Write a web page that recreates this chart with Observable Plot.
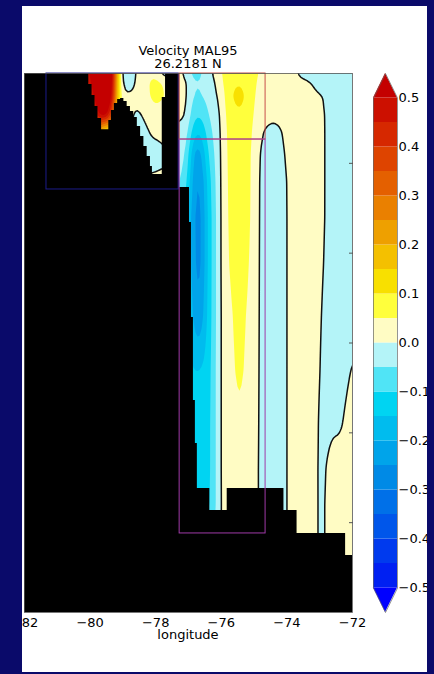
<!DOCTYPE html>
<html><head><meta charset="utf-8">
<script src="https://cdn.jsdelivr.net/npm/d3@7"></script>
<script src="https://cdn.jsdelivr.net/npm/@observablehq/plot@0.6"></script>
<style>
body{margin:0;background:#0a0a6a;}
#page{position:relative;width:434px;height:674px;background:#0a0a6a;overflow:hidden;font-family:"DejaVu Sans",sans-serif;}
#panel{position:absolute;left:22px;top:6px;width:405px;height:666px;background:#fff;overflow:hidden;}
.layer{position:absolute;left:-22px;top:-6px;width:434px;height:674px;}
.txt{position:absolute;font-size:13px;line-height:13px;height:13px;color:#000;text-align:center;white-space:nowrap;font-family:"DejaVu Sans",sans-serif;}
</style></head>
<body>
<div id="page"><div id="panel">
<div id="main" class="layer"></div>
<div id="cbar" class="layer"></div>
<div class="txt" style="left:66px;top:38px;width:200px;">Velocity MAL95</div>
<div class="txt" style="left:66px;top:51.3px;width:200px;">26.2181 N</div>
<div class="txt" style="left:66px;top:622px;width:200px;">longitude</div>
</div></div>
<script>
// ---- data ----
const depth = [0, 100, 250, 450, 650, 900, 1200, 1600, 2100, 2700, 3300, 3900, 4400, 4800, 5200, 6000];
const lon = [-82, -80.1, -79.95, -79.8, -79.65, -79.5, -79.35, -79.2, -79.05, -78.9, -78.75, -78.6, -78.45, -78.3, -78.15, -78.0, -77.85, -77.6, -77.35,
  -77.2, -77.05, -76.9, -76.75, -76.6, -76.45, -76.3, -76.15, -76.0, -75.85, -75.65, -75.45, -75.25, -75.05, -74.85, -74.65, -74.45, -74.25, -74.05,
  -73.85, -73.6, -73.35, -73.1, -72.95, -72.8, -72.6, -72.4, -72.2, -72.0];
// velocity (m/s), one list per longitude, values at each depth
const velocity = [
  [0.45,0.4,0.35,0.3,0.2,0.1,0.05,0.05,0.05,0.05,0.05,0.05,0.05,0.05,0.05,0.05],
  [0.45,0.4,0.35,0.3,0.2,0.1,0.05,0.05,0.05,0.05,0.05,0.05,0.05,0.05,0.05,0.05],
  [0.55,0.52,0.42,0.35,0.25,0.1,0.05,0.05,0.05,0.05,0.05,0.05,0.05,0.05,0.05,0.05],
  [0.62,0.63,0.6,0.45,0.3,0.15,0.05,0.05,0.05,0.05,0.05,0.05,0.05,0.05,0.05,0.05],
  [0.66,0.68,0.66,0.56,0.12,0.08,0.05,0.05,0.05,0.05,0.05,0.05,0.05,0.05,0.05,0.05],
  [0.64,0.66,0.64,0.54,0.1,0.05,0.05,0.05,0.05,0.05,0.05,0.05,0.05,0.05,0.05,0.05],
  [0.6,0.58,0.55,0.4,0.1,0.05,0.05,0.05,0.05,0.05,0.05,0.05,0.05,0.05,0.05,0.05],
  [0.25,0.22,0.2,0.15,0.08,0.05,0.05,0.05,0.05,0.05,0.05,0.05,0.05,0.05,0.05,0.05],
  [-0.02,0,0.02,0.02,0.02,0.02,0.02,0.02,0.02,0.02,0.02,0.02,0.02,0.02,0.02,0.02],
  [-0.04,-0.03,0.01,0.015,0.015,0.015,0.015,0.015,0.015,0.015,0.015,0.015,0.015,0.015,0.015,0.015],
  [-0.04,-0.025,0.01,0.01,0,0,0,0,0,0,0,0,0,0,0,0],
  [0.01,0.01,0.015,-0.01,-0.02,-0.015,0,0,0,0,0,0,0,0,0,0],
  [0.02,0.025,0.02,0,-0.02,-0.02,0,0,0,0,0,0,0,0,0,0],
  [0.03,0.04,0.035,0.01,-0.01,-0.015,0,0,0,0,0,0,0,0,0,0],
  [0.04,0.055,0.055,0.03,0.005,-0.02,0.01,0.01,0.01,0.01,0.01,0.01,0.01,0.01,0.01,0.01],
  [0.04,0.065,0.065,0.035,0.01,-0.02,0.01,0.01,0.01,0.01,0.01,0.01,0.01,0.01,0.01,0.01],
  [-0.005,0.055,0.06,0.03,0.01,-0.01,0.01,0.01,0.01,0.01,0.01,0.01,0.01,0.01,0.01,0.01],
  [-0.03,0.03,0.04,0.02,0.01,0,0,0,0,0,0,0,0,0,0,0],
  [0.01,0.01,0.01,0.005,-0.01,-0.03,-0.05,-0.05,-0.05,-0.05,-0.05,-0.05,-0.05,-0.05,-0.05,-0.05],
  [0.01,0.012,0.012,0.008,-0.01,-0.03,-0.05,-0.08,-0.1,-0.1,-0.1,-0.1,-0.1,-0.1,-0.1,-0.1],
  [-0.02,0.008,0.01,0.002,-0.03,-0.06,-0.09,-0.14,-0.15,-0.15,-0.12,-0.1,-0.1,-0.1,-0.1,-0.1],
  [-0.06,-0.04,-0.045,-0.07,-0.11,-0.16,-0.19,-0.21,-0.2,-0.18,-0.15,-0.12,-0.1,-0.1,-0.1,-0.1],
  [-0.07,-0.05,-0.06,-0.095,-0.15,-0.25,-0.27,-0.28,-0.28,-0.25,-0.15,-0.13,-0.12,-0.1,-0.1,-0.1],
  [-0.05,-0.045,-0.05,-0.09,-0.14,-0.2,-0.24,-0.26,-0.26,-0.23,-0.15,-0.13,-0.12,-0.11,-0.1,-0.1],
  [-0.03,-0.035,-0.04,-0.06,-0.09,-0.12,-0.15,-0.16,-0.16,-0.15,-0.13,-0.12,-0.12,-0.11,-0.1,-0.1],
  [-0.005,-0.015,-0.02,-0.035,-0.05,-0.07,-0.09,-0.1,-0.1,-0.1,-0.1,-0.1,-0.1,-0.1,-0.06,-0.06],
  [0.02,0.005,-0.005,-0.02,-0.03,-0.035,-0.04,-0.045,-0.045,-0.045,-0.04,-0.04,-0.04,-0.04,-0.03,-0.03],
  [0.048,0.04,0.02,0.01,0.008,0.006,0.006,0.006,0.006,0.006,0.006,0.006,0.006,0.006,0.006,0.006],
  [0.07,0.07,0.065,0.058,0.052,0.05,0.048,0.047,0.045,0.035,0.03,0.03,0.03,0.025,0.02,0.02],
  [0.08,0.09,0.104,0.085,0.075,0.07,0.068,0.065,0.06,0.05,0.045,0.035,0.03,0.03,0.03,0.03],
  [0.085,0.098,0.12,0.095,0.085,0.08,0.078,0.075,0.07,0.065,0.06,0.046,0.046,0.07,0.04,0.04],
  [0.08,0.085,0.095,0.085,0.075,0.07,0.068,0.065,0.06,0.05,0.045,0.035,0.03,0.03,0.03,0.03],
  [0.07,0.065,0.06,0.055,0.05,0.045,0.045,0.045,0.04,0.035,0.03,0.025,0.02,0.02,0.02,0.02],
  [0.045,0.04,0.035,0.025,0.01,0,-0.002,-0.003,-0.003,-0.003,-0.003,-0.003,-0.003,-0.003,-0.003,-0.003],
  [0.04,0.035,0.03,0.015,-0.005,-0.015,-0.02,-0.02,-0.02,-0.02,-0.02,-0.02,-0.02,-0.02,-0.02,-0.02],
  [0.04,0.035,0.03,0.01,-0.012,-0.02,-0.025,-0.025,-0.025,-0.025,-0.025,-0.025,-0.025,-0.025,-0.025,-0.025],
  [0.04,0.035,0.03,0.012,-0.008,-0.015,-0.02,-0.02,-0.02,-0.02,-0.02,-0.02,-0.02,-0.02,-0.02,-0.02],
  [0.035,0.035,0.03,0.02,0.008,0.002,-0.003,-0.004,-0.004,-0.004,-0.004,-0.004,-0.004,-0.004,-0.004,-0.004],
  [0.03,0.03,0.028,0.022,0.018,0.015,0.012,0.012,0.012,0.012,0.012,0.012,0.012,0.012,0.012,0.012],
  [-0.014,0.015,0.018,0.015,0.014,0.013,0.012,0.012,0.012,0.012,0.012,0.011,0.011,0.01,0.01,0.01],
  [-0.02,0.005,0.01,0.01,0.01,0.01,0.009,0.008,0.007,0.006,0.005,0.005,0.005,0.005,0.005,0.005],
  [-0.03,-0.008,0.006,0.006,0.006,0.006,0.006,0.005,0.004,0.003,0.003,0.003,0.002,0.002,0.002,0.002],
  [-0.03,-0.02,0.002,0.003,0.003,0.003,0.003,0.003,0.002,0.0005,-0.001,-0.004,-0.004,-0.004,-0.004,-0.004],
  [-0.03,-0.02,-0.004,-0.001,-0.001,-0.001,-0.001,-0.001,-0.002,-0.004,-0.005,-0.003,0.001,0.002,0.002,0.002],
  [-0.03,-0.02,-0.015,-0.01,-0.008,-0.008,-0.008,-0.008,-0.008,-0.008,-0.006,-0.001,0.003,0.004,0.004,0.004],
  [-0.03,-0.025,-0.02,-0.015,-0.012,-0.012,-0.012,-0.011,-0.011,-0.01,-0.005,-0.002,0.005,0.005,0.005,0.005],
  [-0.03,-0.025,-0.02,-0.015,-0.012,-0.012,-0.012,-0.011,-0.011,-0.01,-0.002,0.002,0.005,0.005,0.006,0.006],
  [-0.03,-0.025,-0.02,-0.015,-0.012,-0.01,-0.01,-0.008,-0.006,-0.004,0.001,0.004,0.006,0.006,0.006,0.006]
];
// sea floor: longitude edges and bottom depth of each model column
const bathyLon = [-82, -80.04, -79.94, -79.85, -79.76, -79.65, -79.43, -79.35, -79.26, -79.16, -79.07, -78.97, -78.87, -78.77, -78.67, -78.56,
  -78.46, -78.36, -78.26, -78.16, -78.10, -77.80, -77.70, -77.27, -76.97, -76.91, -76.85, -76.79, -76.73, -76.35, -75.82, -74.09, -73.69, -72.21, -72.0];
const bathyDepth = [0, 122, 245, 367, 501, 627, 523, 412, 334, 289, 278, 312, 367, 423, 490, 590, 701, 813, 924, 1035, 1124, 267, 0,
  1269, 1659, 2716, 3640, 4119, 4620, 4865, 4620, 4865, 5121, 5366];
// section boxes
const boxLon1 = [-81.33, -77.27, -77.27];
const boxLon2 = [-77.30, -74.65, -74.65];
const boxTop = [0, 0, 735];
const boxBottom = [1291, 735, 5120];
const levels = [-0.5,-0.45,-0.4,-0.35,-0.3,-0.25,-0.2,-0.15,-0.1,-0.05,0,0.05,0.1,0.15,0.2,0.25,0.3,0.35,0.4,0.45,0.5];
const cbTicks = [-0.5,-0.4,-0.3,-0.2,-0.1,0,0.1,0.2,0.3,0.4,0.5];
const lonTicks = [-82,-80,-78,-76,-74,-72];
const depthTicks = [1000,2000,3000,4000,5000];

// ---- styles ----
const palette = ["#0000ff","#0020f2","#003aee","#0056ea","#0070e8","#008ae6","#00a4ea","#00bcee","#00d4f2","#50e4f6","#b4f4f8",
  "#fffcc4","#ffff3c","#f8e000","#f4c000","#eea000","#ea8000","#e46000","#de4400","#d62800","#cc1000","#c40000"];
const boxStroke = ["#1c1c8a", "#c8504a", "#a03aa8"];

const ny = depth.length, nx = lon.length;
const points = [];
lon.forEach((x, i) => depth.forEach((z, j) => points.push({lon: x, depth: z, u: velocity[i][j]})));
const floor = bathyLon.map((x, i) => ({lon: x, depth: bathyDepth[Math.min(i, bathyDepth.length - 1)]}));
const maxDepth = depth[ny - 1];
const minus = s => s.replace("-", "\u2212");

// bilinear interpolation on the (non-uniform) model grid, handed to Plot's raster machinery
function gridInterpolate(index, width, height, X, Y, V) {
  let cx = lon.map((_, c) => X[c * ny]), cols = lon.map((_, c) => c);
  let ry = depth.map((_, r) => Y[r]), rows = depth.map((_, r) => r);
  if (cx[0] > cx[nx - 1]) { cx.reverse(); cols.reverse(); }
  if (ry[0] > ry[ny - 1]) { ry.reverse(); rows.reverse(); }
  const locate = (arr, v) => {
    if (v <= arr[0]) return [0, 0];
    if (v >= arr[arr.length - 1]) return [arr.length - 2, 1];
    const i = d3.bisectRight(arr, v) - 1;
    return [i, (v - arr[i]) / (arr[i + 1] - arr[i])];
  };
  const W = new Float64Array(width * height);
  const xl = Array.from({length: width}, (_, px) => locate(cx, px + 0.5));
  for (let py = 0; py < height; py++) {
    const [j, ty] = locate(ry, py + 0.5);
    const r0 = rows[j], r1 = rows[j + 1];
    for (let px = 0; px < width; px++) {
      const [i, tx] = xl[px];
      const c0 = cols[i], c1 = cols[i + 1];
      const v00 = V[c0 * ny + r0], v10 = V[c1 * ny + r0], v01 = V[c0 * ny + r1], v11 = V[c1 * ny + r1];
      W[py * width + px] = (1 - ty) * ((1 - tx) * v00 + tx * v10) + ty * ((1 - tx) * v01 + tx * v11);
    }
  }
  return W;
}

const colorScale = {type: "threshold", domain: levels, range: palette};
const svgStyle = {background: "transparent", fontFamily: "DejaVu Sans", fontSize: "13px", maxWidth: "none", overflow: "visible", color: "black"};
const cOpts = {x: "lon", y: "depth", interpolate: gridInterpolate, x1: -82.3, x2: -71.7, y1: -150, y2: 6150, blur: 1, clip: true};

const main = Plot.plot({
  width: 434, height: 674, marginLeft: 24, marginRight: 82, marginTop: 73, marginBottom: 62,
  style: svgStyle,
  x: {domain: [-82, -72]},
  y: {domain: [0, maxDepth], reverse: true},
  color: colorScale,
  marks: [
    Plot.contour(points, {...cOpts, fill: "u", thresholds: levels, stroke: "none"}),
    Plot.contour(points, {...cOpts, value: "u", thresholds: [0], fill: "none", stroke: "#111", strokeWidth: 1.5}),
    Plot.areaY(floor, {x: "lon", y1: "depth", y2: maxDepth, curve: "step-after", fill: "black"}),
    ...boxStroke.map((s, k) => Plot.rect([k], {x1: d => boxLon1[d], x2: d => boxLon2[d], y1: d => boxTop[d], y2: d => boxBottom[d], fill: "none", stroke: s, strokeWidth: 1})),
    Plot.frame({stroke: "#555", strokeWidth: 0.8}),
    Plot.axisX({ticks: lonTicks, tickSize: 0, tickPadding: 5, tickFormat: d => minus(String(d)), label: null}),
    Plot.axisY({anchor: "right", ticks: depthTicks, tickSize: 4, dx: -4, tickFormat: () => "", label: null, stroke: "#555"})
  ]
});
document.getElementById("main").appendChild(main);

const step = levels[1] - levels[0];
const lo = levels[0], hi = levels[levels.length - 1];
const bands = levels.slice(0, -1).map((v, i) => ({lo: v, hi: levels[i + 1]}));
const topTri = [{v: hi, a: 0, b: 1}, {v: hi + step, a: 0.5, b: 0.5}];
const botTri = [{v: lo, a: 0, b: 1}, {v: lo - step, a: 0.5, b: 0.5}];
const outline = [{a: 0, v: lo}, {a: 0, v: hi}, {a: 0.5, v: hi + step}, {a: 1, v: hi}, {a: 1, v: lo}, {a: 0.5, v: lo - step}, {a: 0, v: lo}];

const cbar = Plot.plot({
  width: 434, height: 674, marginLeft: 373, marginRight: 37, marginTop: 73, marginBottom: 62,
  style: svgStyle,
  x: {domain: [0, 1], axis: null},
  y: {domain: [lo - step, hi + step]},
  color: colorScale,
  marks: [
    Plot.rect(bands, {x1: 0, x2: 1, y1: "lo", y2: "hi", fill: "lo"}),
    Plot.areaX(topTri, {y: "v", x1: "a", x2: "b", fill: () => hi}),
    Plot.areaX(botTri, {y: "v", x1: "a", x2: "b", fill: () => lo - step}),
    Plot.line(outline, {x: "a", y: "v", stroke: "#666", strokeWidth: 0.7}),
    Plot.axisY({anchor: "right", ticks: cbTicks, tickSize: 0, tickPadding: 1, tickFormat: d => minus(d.toFixed(1)), label: null})
  ]
});
document.getElementById("cbar").appendChild(cbar);
</script>
</body></html>
